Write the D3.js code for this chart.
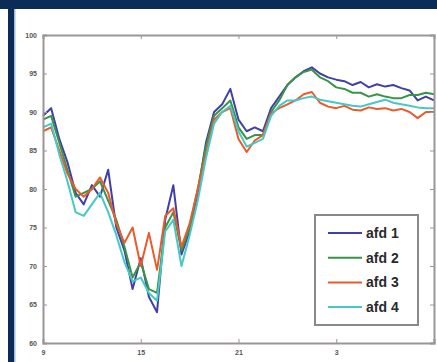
<!DOCTYPE html>
<html>
<head>
<meta charset="utf-8">
<script src="https://cdn.jsdelivr.net/npm/d3@7"></script>
<style>
  body { margin: 0; background: #fff; }
  svg { display: block; }
  .axis path, .axis line { stroke: #9a9696; }
  .axis text { fill: #555; font-family: "Liberation Sans", Arial, sans-serif; font-size: 7px; font-weight: bold; }
</style>
</head>
<body>
<div id="chart"></div>
<script>
// hours after 09:00
const hours = [0, 0.5, 1, 1.5, 2, 2.5, 3, 3.5, 4, 4.5, 5, 5.5, 6, 6.5, 7, 7.5, 8, 8.5, 9, 9.5,
  10, 10.5, 11, 11.5, 12, 12.5, 13, 13.5, 14, 14.5, 15, 15.5, 16, 16.5, 17, 17.5, 18, 18.5, 19, 19.5,
  20, 20.5, 21, 21.5, 22, 22.5, 23, 23.5, 24];

const afd1 = [89.5, 90.5, 86.5, 83.5, 79.5, 78, 80.5, 79, 82.5, 75, 72, 67, 71, 66, 64, 76, 80.5, 71.5, 74.5, 79.5,
  86, 90, 91, 93, 89, 87.5, 88, 87.5, 90.5, 92, 93.5, 94.5, 95.3, 95.8, 95, 94.5, 94.2, 94, 93.5, 93.9,
  93.2, 93.6, 93.3, 93.5, 93.1, 92.8, 91.5, 92, 91.5];
const afd2 = [89, 89.5, 86, 82.5, 79, 79.5, 80, 81, 78.5, 76, 72.5, 68.5, 70.5, 67, 66.5, 75, 77, 72, 75, 80,
  85.5, 89.5, 90.5, 91.5, 88, 86.5, 87, 87, 90, 91.5, 93.5, 94.5, 95.2, 95.5, 94.5, 94, 93.2, 93, 92.5, 92.5,
  92, 92.3, 92, 91.8, 91.8, 92.2, 92.2, 92.5, 92.3];
const afd3 = [87.5, 88, 85, 82, 80, 79, 80, 81.5, 79.5, 75.5, 73, 75, 70, 74.3, 69.5, 76.5, 77.5, 72.5, 75.5, 80,
  84.5, 89, 90, 90.5, 86.5, 84.8, 86.3, 87, 89.8, 90.5, 91, 91.5, 92.3, 92.6, 91.2, 90.7, 90.5, 90.8, 90.3, 90.2,
  90.6, 90.4, 90.5, 90.2, 90.4, 90, 89.2, 90, 90];
const afd4 = [88, 88.5, 84.5, 81, 77, 76.5, 78, 79.5, 77, 74, 70.5, 68, 68.5, 66.5, 65.5, 74.5, 76, 70, 74, 78.5,
  84, 88.5, 90, 90.8, 87.5, 85.5, 86, 86.5, 89.5, 90.8, 91.5, 91.5, 91.8, 92, 91.6, 91.4, 91.2, 91, 90.8, 90.7,
  91, 91.3, 91.6, 91.2, 91, 90.8, 90.6, 90.5, 90.5];

const seriesNames = ['afd 1', 'afd 2', 'afd 3', 'afd 4'];
const seriesColors = ['#4040a8', '#3a9447', '#ea5a2c', '#46c8c8'];
const xTicks = [0, 6, 12, 18, 24];
const xTickLabels = ['9', '15', '21', '3', ''];
const yTicks = [60, 65, 70, 75, 80, 85, 90, 95, 100];

const W = 437, H = 362;
const plot = {left: 43, right: 434, top: 35, bottom: 343};

const svg = d3.select('#chart').append('svg')
  .attr('width', W)
  .attr('height', H);

// page frame: dark band on top, strip on the left
svg.append('rect').attr('x', 0).attr('y', 0).attr('width', W).attr('height', 9).attr('fill', '#0b2c56');
svg.append('rect').attr('x', 8).attr('y', 9).attr('width', 6).attr('height', H - 9).attr('fill', '#0b2c56');
svg.append('rect').attr('x', 14).attr('y', 9).attr('width', 1.5).attr('height', H - 9).attr('fill', '#9fbad8');

const x = d3.scaleLinear().domain([0, 24]).range([plot.left, plot.right]);
const y = d3.scaleLinear().domain([60, 100]).range([plot.bottom, plot.top]);

// data lines
const line = d3.line()
  .x((d, i) => x(hours[i]))
  .y(d => y(d));

[afd1, afd2, afd3, afd4].forEach((values, i) => {
  svg.append('path')
    .datum(values)
    .attr('fill', 'none')
    .attr('stroke', seriesColors[i])
    .attr('stroke-width', 2)
    .attr('stroke-linejoin', 'round')
    .attr('d', line);
});

// axes, ticks pointing inwards like matlab
svg.append('g')
  .attr('class', 'axis')
  .attr('transform', `translate(0, ${plot.bottom})`)
  .call(d3.axisBottom(x).tickValues(xTicks).tickSize(-4).tickPadding(7)
    .tickFormat((d, i) => xTickLabels[i]));

svg.append('g')
  .attr('class', 'axis')
  .attr('transform', `translate(${plot.left}, 0)`)
  .call(d3.axisLeft(y).tickValues(yTicks).tickSize(-4).tickPadding(6));

svg.append('g')
  .attr('class', 'axis')
  .attr('transform', `translate(0, ${plot.top})`)
  .call(d3.axisTop(x).tickValues(xTicks).tickSize(-4).tickFormat(''));

svg.append('g')
  .attr('class', 'axis')
  .attr('transform', `translate(${plot.right}, 0)`)
  .call(d3.axisRight(y).tickValues(yTicks).tickSize(-4).tickFormat(''));

svg.selectAll('.axis .domain').attr('stroke-width', 2);

// legend
const legend = svg.append('g').attr('transform', 'translate(315, 215)');
legend.append('rect')
  .attr('width', 103).attr('height', 110)
  .attr('fill', '#fff')
  .attr('stroke', '#8c8888')
  .attr('stroke-width', 2);

seriesNames.forEach((name, i) => {
  const row = legend.append('g').attr('transform', `translate(0, ${18 + i * 24.7})`);
  row.append('line')
    .attr('x1', 13).attr('x2', 47)
    .attr('stroke', seriesColors[i])
    .attr('stroke-width', 2);
  row.append('text')
    .attr('x', 51).attr('y', 5)
    .attr('fill', '#2a2a2a')
    .style('font-family', '"Liberation Sans", Arial, sans-serif')
    .style('font-size', '14px')
    .style('font-weight', 'bold')
    .text(name);
});
</script>
</body>
</html>
